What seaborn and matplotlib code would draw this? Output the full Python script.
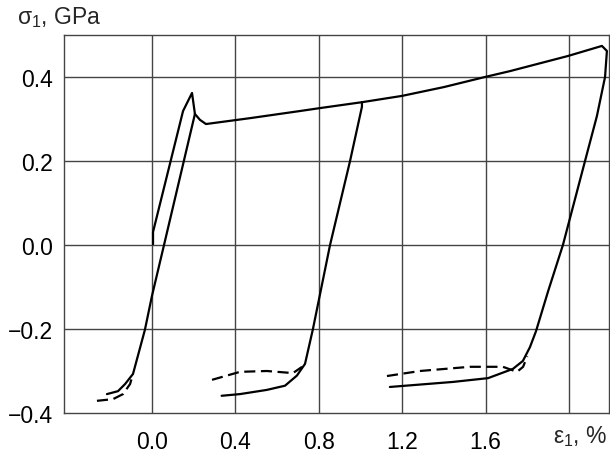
import matplotlib
matplotlib.use("Agg")
import matplotlib.pyplot as plt
import seaborn as sns
import numpy as np

# ---- data (strain %, stress GPa) ----
load1_x = [0.005, 0.005, 0.149, 0.192, 0.206]
load1_y = [0.002, 0.031, 0.319, 0.362, 0.312]

unload1_x = [0.206, 0.062, 0.0, -0.034, -0.091, -0.129, -0.163, -0.216]
unload1_y = [0.312, 0.009, -0.121, -0.202, -0.307, -0.331, -0.348, -0.355]

main_x = [0.206, 0.23, 0.259, 0.47, 0.71, 0.806, 1.007, 1.199, 1.40, 1.597,
          1.717, 1.995, 2.158, 2.182, 2.173, 2.134, 2.077, 1.971, 1.90,
          1.842, 1.813, 1.779, 1.731, 1.612, 1.444, 1.141]
main_y = [0.312, 0.298, 0.288, 0.302, 0.319, 0.326, 0.340, 0.355, 0.376, 0.400,
          0.414, 0.450, 0.474, 0.462, 0.400, 0.307, 0.200, 0.000, -0.11,
          -0.205, -0.243, -0.276, -0.295, -0.317, -0.326, -0.338]

unload2_x = [1.007, 1.007, 0.95, 0.854, 0.772, 0.734, 0.695, 0.638, 0.551, 0.422, 0.334]
unload2_y = [0.340, 0.329, 0.20, 0.0, -0.20, -0.283, -0.311, -0.335, -0.345, -0.355, -0.359]

dash1_x = [-0.264, -0.187, -0.139, -0.105, -0.093]
dash1_y = [-0.371, -0.367, -0.355, -0.331, -0.310]

dash2_x = [0.288, 0.422, 0.551, 0.676, 0.72]
dash2_y = [-0.321, -0.302, -0.300, -0.305, -0.290]

dash3_x = [1.127, 1.285, 1.525, 1.683, 1.751, 1.78, 1.80]
dash3_y = [-0.312, -0.300, -0.290, -0.290, -0.302, -0.290, -0.265]

x_ticks = [0.0, 0.4, 0.8, 1.2, 1.6]
x_grid = [0.0, 0.4, 0.8, 1.2, 1.6, 2.0]
y_ticks = [-0.4, -0.2, 0.0, 0.2, 0.4]

sns.set_style("white")
plt.rcParams['font.family'] = ['Liberation Sans', 'DejaVu Sans']
plt.rcParams['mathtext.fontset'] = 'custom'
plt.rcParams['mathtext.rm'] = 'Liberation Sans'

fig = plt.figure(figsize=(6.10, 4.56), dpi=100)
ax = fig.add_axes([64/610, 1-414/456, (609-64)/610, (414-36)/456])

gcol = '#444444'
for gx in x_grid:
    ax.axvline(gx, color=gcol, lw=1.0, zorder=1)
for gy in [-0.2, 0.0, 0.2, 0.4]:
    ax.axhline(gy, color=gcol, lw=1.0, zorder=1)

lw = 1.6
for xs, ys in [(load1_x, load1_y), (unload1_x, unload1_y), (main_x, main_y), (unload2_x, unload2_y)]:
    sns.lineplot(x=xs, y=ys, sort=False, estimator=None, color='black', lw=lw, ax=ax, zorder=3)
for xs, ys in [(dash1_x, dash1_y), (dash2_x, dash2_y), (dash3_x, dash3_y)]:
    sns.lineplot(x=xs, y=ys, sort=False, estimator=None, color='black', lw=lw,
                 ax=ax, zorder=3, linestyle=(0, (5, 2.5)))

ax.set_xlim(-0.422, 2.192)
ax.set_ylim(-0.4, 0.5)
ax.set_xticks(x_ticks)
ax.set_xticklabels([f"{v:.1f}" for v in x_ticks])
ax.set_yticks(y_ticks)
ax.set_yticklabels([f"{v:.1f}".replace("-", "\u2212") for v in y_ticks])
ax.tick_params(axis='both', length=0, labelsize=16.5, colors='black')
ax.tick_params(axis='x', pad=12)
ax.tick_params(axis='y', pad=8)
for s in ax.spines.values():
    s.set_color(gcol)
    s.set_linewidth(1.0)
ax.set_xlabel("")
ax.set_ylabel("")

fig.text(17/610, 1-18/456, r"$\mathregular{σ_1}$, GPa", fontsize=16.5, va='center', ha='left')
fig.text(553/610, 1-437/456, r"$\mathregular{ε_1}$, %", fontsize=16.5, va='center', ha='left')

fig.savefig("out.png", dpi=100)
